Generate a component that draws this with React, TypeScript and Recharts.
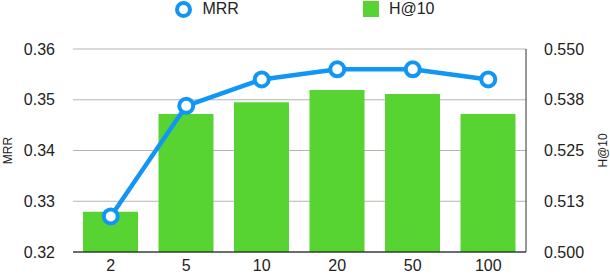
import React from "react"
import { ComposedChart, Bar, Line, XAxis, YAxis, CartesianGrid, Legend } from "recharts"

const sizes = ["2", "5", "10", "20", "50", "100"]
const mrr = [0.327, 0.3488, 0.354, 0.356, 0.356, 0.354]
const hits10 = [0.5099, 0.534, 0.5369, 0.5399, 0.5389, 0.534]

const mrrTicks = [0.32, 0.33, 0.34, 0.35, 0.36]
const hitsTicks = [0.5, 0.5125, 0.525, 0.5375, 0.55]
const hitsTickLabels = ["0.500", "0.513", "0.525", "0.538", "0.550"]

const data = sizes.map((s, i) => ({ size: s, MRR: mrr[i], "H@10": hits10[i] }))

const BLUE = "#1296f6"
const GREEN = "#58d432"
const FONT = "'Liberation Sans', Arial, sans-serif"

const tickStyle = { fill: "#222", fontSize: 16, fontFamily: FONT }

const LegendBox = () => (
  <div style={{ height: 49, display: "flex", justifyContent: "center", alignItems: "flex-start", fontFamily: FONT, fontSize: 16, color: "#222" }}>
    <div style={{ display: "flex", alignItems: "center", height: 18, marginRight: 124 }}>
      <span style={{ width: 9, height: 9, borderRadius: "50%", border: `4px solid ${BLUE}`, background: "#fff", marginRight: 10 }} />
      <span>MRR</span>
    </div>
    <div style={{ display: "flex", alignItems: "center", height: 18 }}>
      <span style={{ width: 16, height: 16, background: GREEN, marginRight: 10 }} />
      <span>H@10</span>
    </div>
  </div>
)

export default function App() {
  return (
    <div style={{ position: "absolute", left: 0, top: 0, width: 610, height: 276, background: "#fff" }}>
      <ComposedChart width={610} height={276} data={data} margin={{ top: 0, right: 0, bottom: 0, left: 0 }} barSize={55}>
        <Legend verticalAlign="top" content={() => <LegendBox />} />
        <CartesianGrid yAxisId="left" vertical={false} stroke="#b4b4b4" />
        <XAxis
          dataKey="size"
          height={24}
          axisLine={{ stroke: "#000" }}
          tickLine={false}
          tick={tickStyle}
          tickMargin={2}
          interval={0}
        />
        <YAxis
          yAxisId="left"
          width={73}
          domain={[0.32, 0.36]}
          ticks={mrrTicks}
          tickFormatter={(v) => v.toFixed(2)}
          axisLine={false}
          tickLine={false}
          tickMargin={12}
          tick={tickStyle}
          label={{ value: "MRR", angle: -90, position: "insideLeft", offset: 8, fontSize: 12, fill: "#222", fontFamily: FONT, style: { textAnchor: "middle" } }}
        />
        <YAxis
          yAxisId="right"
          orientation="right"
          width={84}
          domain={[0.5, 0.55]}
          ticks={hitsTicks}
          tickFormatter={(v, i) => hitsTickLabels[i]}
          axisLine={{ stroke: "#333" }}
          tickLine={false}
          tickMargin={12}
          tick={tickStyle}
          label={{ value: "H@10", angle: -90, position: "insideRight", offset: 7, fontSize: 12, fill: "#222", fontFamily: FONT, style: { textAnchor: "middle" } }}
        />
        <Bar yAxisId="right" dataKey="H@10" fill={GREEN} isAnimationActive={false} />
        <Line
          yAxisId="left"
          dataKey="MRR"
          stroke={BLUE}
          strokeWidth={4.5}
          dot={{ r: 7, fill: "#fff", stroke: BLUE, strokeWidth: 4 }}
          activeDot={false}
          isAnimationActive={false}
        />
      </ComposedChart>
    </div>
  )
}
